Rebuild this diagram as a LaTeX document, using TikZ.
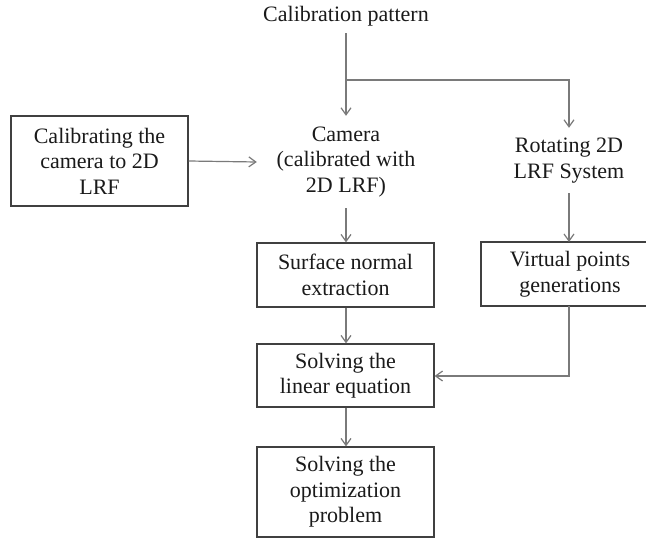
\documentclass[tikz,border=0pt]{standalone}
\usepackage{fontspec}
\setmainfont{Liberation Serif}
\usetikzlibrary{arrows.meta}
\definecolor{linegray}{HTML}{7A7A7A}
\definecolor{boxgray}{HTML}{404040}
\definecolor{txt}{HTML}{1A1A1A}
\tikzset{
  every node/.style={font=\fontsize{22}{25.5}\selectfont, text=txt, align=center, inner sep=0pt},
  stepbox/.style={draw=boxgray, line width=1.2pt, minimum width=177pt},
  plain/.style={},
  edgebox/.style={draw=boxgray, line width=1.2pt},
  conn/.style={draw=linegray, line width=1.2pt, -{Straight Barb[length=7pt,width=10pt,line width=1.2pt]}},
}
\begin{document}
\begin{tikzpicture}[x=1pt,y=-1pt]
\useasboundingbox (0,0) rectangle (646,538);
\fill[white] (0,0) rectangle (646,538);
\node[plain, minimum height=34pt] (pattern) at (346,16) {Calibration pattern};
\node[stepbox, minimum height=90pt] (calib) at (99.5,161) {Calibrating the\\camera to 2D\\LRF};
\node[plain, minimum width=178pt, minimum height=92pt] (camera) at (346,162) {Camera\\(calibrated with\\2D LRF)};
\node[plain, minimum height=65pt] (rot) at (569,160.5) {Rotating 2D\\LRF System};
\node[stepbox, minimum height=64pt] (surf) at (345.5,275) {Surface normal\\extraction};
\node[plain, minimum width=160pt, minimum height=64pt] (virt) at (570,274) {Virtual points\\generations};
\draw[edgebox] (646,242) -- (481,242) -- (481,306) -- (646,306);
\node[stepbox, minimum height=63pt] (lin) at (345.5,375.5) {Solving the\\linear equation};
\node[stepbox, minimum height=90pt] (opt) at (345.5,492) {Solving the\\optimization\\problem};
\coordinate (branch) at (346,80);
\coordinate (corner) at (569,80);
\coordinate (vtop) at (569,242);
\coordinate (vbot) at (569,306);
\coordinate (vcorner) at (569,376);
\draw[conn] (pattern.south) -- (camera.north);
\draw[conn] (branch) -- (corner) -- (rot.north -| corner);
\draw[conn] (calib.east) -- (camera.west);
\draw[conn] (camera.south) -- (surf.north -| camera.south);
\draw[conn] (rot.south -| corner) -- (vtop);
\draw[conn] (surf.south -| camera.south) -- (lin.north -| camera.south);
\draw[conn] (vbot) -- (vcorner) -- (lin.east |- vcorner);
\draw[conn] (lin.south -| camera.south) -- (opt.north -| camera.south);
\end{tikzpicture}
\end{document}
